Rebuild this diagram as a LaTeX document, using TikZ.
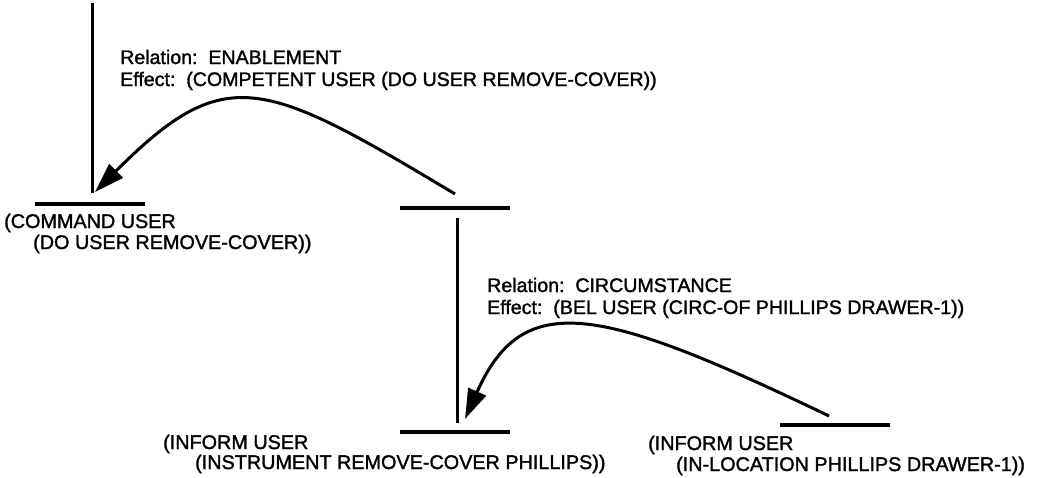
\documentclass[tikz,border=0pt]{standalone}
\usepackage{fontspec}
\setmainfont[FakeBold=1.5]{Liberation Sans}
\usetikzlibrary{arrows.meta}
\begin{document}
\begin{tikzpicture}[x=1pt,y=-1pt,
  bar/.style={inner sep=0pt,minimum width=110pt,minimum height=3.6pt,fill=black,draw=none},
  vline/.style={line width=3pt},
  arc/.style={line width=3pt,-{Triangle[length=30pt,width=19pt]}},
  lbl/.style={anchor=base west,inner sep=0pt,font=\fontsize{19.8}{22}\selectfont},
  rel/.style={anchor=base west,inner sep=0pt,font=\fontsize{19.6}{22}\selectfont}]
\useasboundingbox (0,0) rectangle (1044,477);
% bars
\node[bar] (b1) at (90,204) {};
\node[bar] (b2) at (455,208) {};
\node[bar] (b3) at (455,432) {};
\node[bar] (b4) at (835,425) {};
% vertical lines
\coordinate (top) at (92,3);
\coordinate (v1end) at (92,193);
\draw[vline] (top) -- (v1end);
\coordinate (v2s) at (457,218);
\coordinate (v2e) at (457,423);
\draw[vline] (v2s) -- (v2e);
% curves
\coordinate (c1s) at (455,194);
\coordinate (c1e) at (95,192);
\draw[arc] (c1s) .. controls (262,78) and (225,62) .. (c1e);
\coordinate (c2s) at (829,416);
\coordinate (c2e) at (465,419);
\draw[arc] (c2s) .. controls (598,305) and (523,289) .. (c2e);
% relation labels
\node[rel] (r1a) at (120,64) {Relation:\ \ ENABLEMENT};
\node[rel] (r1b) at (120,86) {Effect:\ \ (COMPETENT USER (DO USER REMOVE-COVER))};
\node[rel] (r2a) at (487,292) {Relation:\ \ CIRCUMSTANCE};
\node[rel] (r2b) at (487,314) {Effect:\ \ (BEL USER (CIRC-OF PHILLIPS DRAWER-1))};
% node labels
\node[lbl] (n1a) at (4,228) {(COMMAND USER};
\node[lbl] (n1b) at (33,249) {(DO USER REMOVE-COVER))};
\node[lbl] (n3a) at (163,449) {(INFORM USER};
\node[lbl] (n3b) at (195,469) {(INSTRUMENT REMOVE-COVER PHILLIPS))};
\node[lbl] (n4a) at (648,450) {(INFORM USER};
\node[lbl] (n4b) at (676,471) {(IN-LOCATION PHILLIPS DRAWER-1))};
\end{tikzpicture}
\end{document}
